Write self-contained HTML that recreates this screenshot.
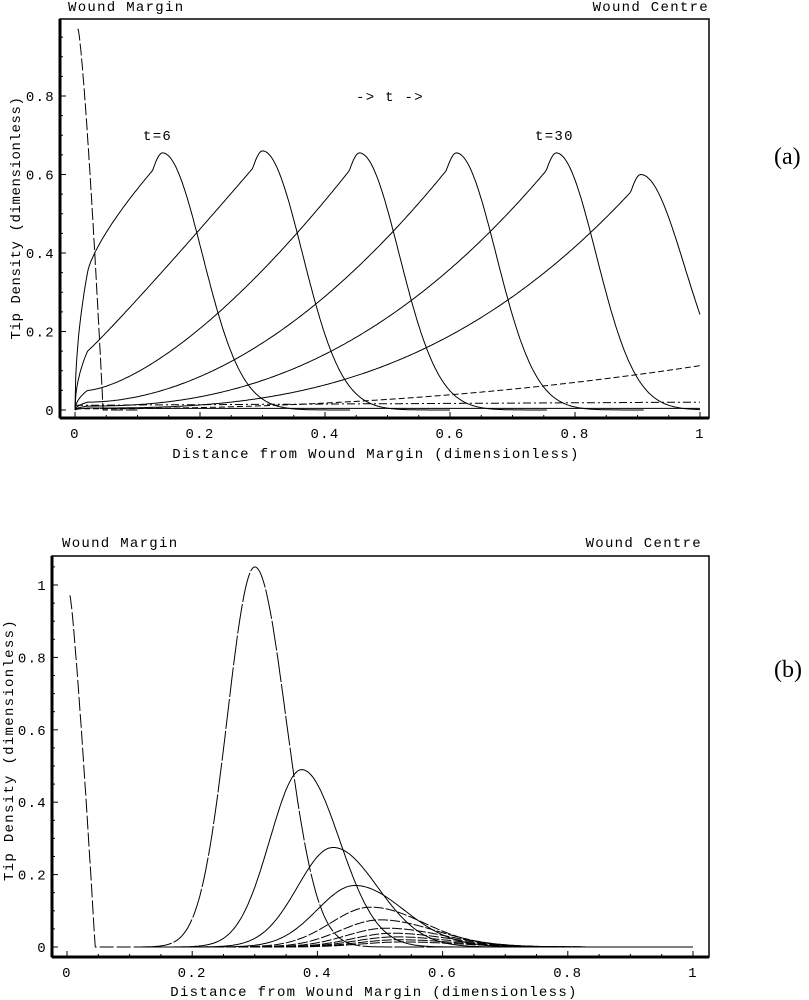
<!DOCTYPE html>
<html><head><meta charset="utf-8"><style>
html,body{margin:0;padding:0;background:#fff;}
svg{display:block;}
text{font-family:"Liberation Mono",monospace;font-size:14px;letter-spacing:1.3px;fill:#000;}
</style></head><body>
<svg id="s" width="809" height="1000" xmlns="http://www.w3.org/2000/svg">
<g fill="none" stroke="#000">
<rect x="60" y="19" width="649" height="399" stroke-width="1.5"/>
<line x1="60" y1="19" x2="60" y2="418" stroke-width="3"/>
<line x1="60" y1="418" x2="709" y2="418" stroke-width="3"/>
<rect x="52" y="556" width="657" height="401" stroke-width="1.5"/>
<line x1="52" y1="556" x2="52" y2="957" stroke-width="3"/>
<line x1="52" y1="957" x2="709" y2="957" stroke-width="3"/>
</g>
<g id="ticks" stroke="#000" stroke-width="1"></g>
<g id="curves" fill="none" stroke="#000" stroke-width="1"></g>
<text x="68" y="11">Wound Margin</text>
<text x="709" y="11" text-anchor="end">Wound Centre</text>
<text x="356" y="101">-&gt; t -&gt;</text>
<text x="143" y="140">t=6</text>
<text x="535" y="140">t=30</text>
<text x="376" y="458" text-anchor="middle">Distance from Wound Margin (dimensionless)</text>
<text transform="translate(20,218) rotate(-90)" text-anchor="middle" style="letter-spacing:0.6px">Tip Density (dimensionless)</text>
<text x="62" y="547">Wound Margin</text>
<text x="702" y="547" text-anchor="end">Wound Centre</text>
<text x="374" y="996" text-anchor="middle">Distance from Wound Margin (dimensionless)</text>
<text transform="translate(13,750) rotate(-90)" text-anchor="middle">Tip Density (dimensionless)</text>
<text x="774" y="164" style="font-family:'Liberation Serif',serif;font-size:24px;letter-spacing:0">(a)</text>
<text x="774" y="677" style="font-family:'Liberation Serif',serif;font-size:24px;letter-spacing:0">(b)</text>
<g id="labels"></g>
</svg>
<script>
var NS="http://www.w3.org/2000/svg";
function el(p,n,a,t){var e=document.createElementNS(NS,n);for(var k in a)e.setAttribute(k,a[k]);if(t)e.textContent=t;document.getElementById(p).appendChild(e);}
var A={x0:75,xs:625,y0:410,ys:392.5,ax:60,ay:418},B={x0:67,xs:626,y0:947,ys:362,ax:52,ay:957};
function ticks(P,ymaj,ymax){
 for(var i=0;i<=5;i++){var v=i*0.2,x=P.x0+v*P.xs;el("ticks","line",{x1:x,y1:P.ay,x2:x,y2:P.ay-6});
  el("labels","text",{x:x,y:P.ay+20,"text-anchor":"middle"},i==0?"0":(i==5?"1":v.toFixed(1)));
  for(var j=1;j<4&&i<5;j++){var xm=x+j*0.05*P.xs;el("ticks","line",{x1:xm,y1:P.ay,x2:xm,y2:P.ay-3});}}
 for(var v=0;v<=ymax+1e-9;v+=0.05){var y=P.y0-v*P.ys;var maj=Math.abs(v/0.2-Math.round(v/0.2))<1e-6;
  el("ticks","line",{x1:P.ax,y1:y,x2:P.ax+(maj?6:3),y2:y});
  if(maj&&v<=ymaj+1e-9){var r=Math.round(v*10)/10;el("labels","text",{x:P.ax-5,y:y+5,"text-anchor":"end"},r==0?"0":(r==1?"1":r.toFixed(1)));}}
}
ticks(A,0.8,0.95);ticks(B,1.0,1.05);
function path(P,f,a,b,dash){var d="";for(var i=0;i<=400;i++){var x=a+(b-a)*i/400,y=f(x);if(y<0)y=0;d+=(i?"L":"M")+(P.x0+x*P.xs).toFixed(1)+","+(P.y0-y*P.ys).toFixed(1);}
 var at={d:d};if(dash)at["stroke-dasharray"]=dash;el("curves","path",at);}
var peaks=[0.14,0.30,0.455,0.61,0.77,0.905],st=[0.35,0.15,0.05,0.02,0.01,0.005],gg=[0.75,1.05,1.5,1.9,2.3,2.7],pk=[0.655,0.66,0.655,0.655,0.655,0.60],ww=[0.09,0.09,0.09,0.09,0.09,0.1];
peaks.forEach(function(p,k){var a=st[k],g=gg[k],h=pk[k],ps=p-0.016,lo=h-0.045;
 path(A,function(x){
  if(x<0.02)return a*Math.pow(x/0.02,0.5);
  if(x<ps)return a+(lo-a)*Math.pow((x-0.02)/(ps-0.02),g);
  if(x<p){var t=(x-ps)/(p-ps);return lo+(h-lo)*Math.sin(t*Math.PI/2);}
  return h*Math.exp(-Math.pow((x-p)/ww[k],2));},0,Math.min(1,p+0.3));
});
path(A,function(x){return 0.11*Math.pow(x,2.2)+0.003;},0,1,"6,3");
path(A,function(x){return 0.012+0.008*x;},0,1,"8,3,2,3");
path(A,function(x){return 0.004;},0.04,1);
path(A,function(x){return x<0.005?0.97:(x<0.045?0.97*(1-Math.pow((x-0.005)/0.04,1.3)):0);},0.004,0.1,"12,3");
path(B,function(x){return x<0.005?0.97:(x<0.045?0.97*(1-Math.pow((x-0.005)/0.04,1.2)):0);},0.004,0.2,"14,3");
var bp=[[0.30,1.05,0.062,0.07],[0.375,0.49,0.072,0.085],[0.425,0.275,0.08,0.1],[0.46,0.17,0.085,0.11],[0.485,0.11,0.09,0.12],[0.5,0.075,0.09,0.125],[0.51,0.052,0.09,0.13],[0.52,0.038,0.09,0.13],[0.525,0.028,0.09,0.13],[0.53,0.02,0.09,0.13],[0.535,0.014,0.09,0.13]];
bp.forEach(function(c,k){path(B,function(x){var w=x<c[0]?c[2]:c[3];return c[1]*Math.exp(-Math.pow((x-c[0])/w,2));},0.12,1,k==0?"30,2":(k>3?"10,2":null));});
</script>
</body></html>
